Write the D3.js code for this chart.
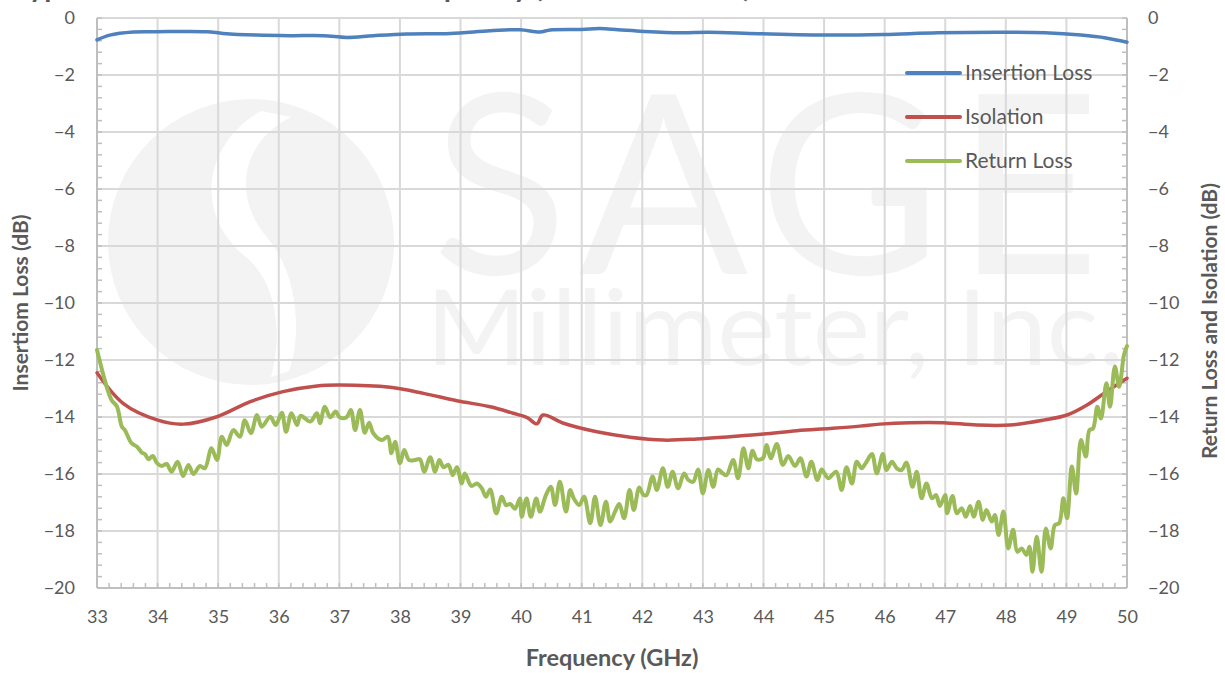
<!DOCTYPE html>
<html>
<head>
<meta charset="utf-8">
<script src="https://cdn.jsdelivr.net/npm/d3@7"></script>
<style>
  html, body { margin: 0; padding: 0; background: #fff; }
  svg { display: block; font-family: Lato, 'Open Sans', sans-serif; }
</style>
</head>
<body>
<div id="chart"></div>
<script>
// tick labels
const xTicks = [33, 34, 35, 36, 37, 38, 39, 40, 41, 42, 43, 44, 45, 46, 47, 48, 49, 50];
const yTicks = [0, -2, -4, -6, -8, -10, -12, -14, -16, -18, -20];

// [frequency GHz, dB]
const insertionLoss = [
  [33.00, -0.77], [33.21, -0.60], [33.60, -0.49], [33.99, -0.48], [34.81, -0.48], [35.08, -0.54],
  [35.64, -0.60], [36.19, -0.62], [36.74, -0.62], [37.12, -0.68], [37.56, -0.62], [38.11, -0.56],
  [38.83, -0.54], [39.49, -0.45], [39.98, -0.41], [40.31, -0.49], [40.48, -0.42], [41.00, -0.40],
  [41.30, -0.37], [41.60, -0.41], [42.03, -0.47], [42.63, -0.52], [43.10, -0.50], [43.92, -0.55],
  [45.10, -0.60], [45.99, -0.58], [46.88, -0.52], [48.06, -0.50], [48.65, -0.52], [49.24, -0.60],
  [49.65, -0.70], [50.00, -0.85]
];

const isolation = [
  [33.00, -12.45], [33.43, -13.52], [33.99, -14.10], [34.42, -14.25], [34.98, -13.99], [35.53, -13.46],
  [36.07, -13.11], [36.63, -12.91], [37.01, -12.88], [37.84, -12.96], [38.39, -13.17], [38.94, -13.43],
  [39.49, -13.64], [39.87, -13.87], [40.10, -14.02], [40.26, -14.24], [40.36, -13.93], [40.70, -14.22],
  [41.25, -14.52], [41.80, -14.71], [42.35, -14.81], [42.90, -14.77], [43.45, -14.69], [44.00, -14.60],
  [44.55, -14.48], [45.10, -14.40], [45.59, -14.32], [45.92, -14.25], [46.42, -14.20], [46.97, -14.20],
  [47.52, -14.28], [48.07, -14.28], [48.62, -14.11], [49.01, -13.93], [49.34, -13.58], [49.66, -13.11],
  [50.00, -12.64]
];

const returnLoss = [
  [33.00, -11.65], [33.16, -12.94], [33.24, -13.40], [33.33, -13.64], [33.41, -14.34], [33.46, -14.46],
  [33.57, -14.92], [33.66, -15.04], [33.74, -15.25], [33.79, -15.30], [33.85, -15.48], [33.92, -15.37],
  [33.99, -15.62], [34.07, -15.72], [34.15, -15.65], [34.23, -15.92], [34.33, -15.57], [34.42, -16.07],
  [34.51, -15.68], [34.59, -16.00], [34.70, -15.72], [34.78, -15.80], [34.89, -15.10], [34.98, -15.51],
  [35.06, -14.69], [35.14, -14.98], [35.25, -14.46], [35.36, -14.69], [35.44, -14.11], [35.54, -14.57],
  [35.64, -13.93], [35.72, -14.34], [35.86, -13.99], [35.95, -14.28], [36.05, -13.85], [36.12, -14.52],
  [36.21, -13.87], [36.30, -14.28], [36.36, -13.96], [36.52, -14.16], [36.63, -13.87], [36.68, -14.22],
  [36.76, -13.64], [36.85, -14.01], [36.94, -13.81], [37.01, -14.02], [37.12, -14.01], [37.19, -13.75],
  [37.26, -14.46], [37.34, -13.75], [37.42, -14.55], [37.49, -14.20], [37.56, -14.57], [37.70, -14.81],
  [37.80, -14.69], [37.86, -15.27], [37.92, -14.87], [38.00, -15.62], [38.07, -15.16], [38.15, -15.51],
  [38.25, -15.51], [38.33, -15.48], [38.40, -15.92], [38.50, -15.41], [38.58, -15.92], [38.65, -15.51],
  [38.72, -15.76], [38.80, -15.68], [38.87, -16.04], [38.94, -15.76], [39.02, -16.33], [39.07, -15.98],
  [39.18, -16.42], [39.27, -16.33], [39.35, -16.50], [39.42, -16.80], [39.49, -16.54], [39.59, -17.38],
  [39.68, -16.80], [39.75, -17.09], [39.82, -17.05], [39.90, -17.22], [39.98, -16.86], [40.01, -17.50],
  [40.09, -16.86], [40.16, -17.50], [40.25, -16.86], [40.31, -17.32], [40.41, -16.74], [40.49, -16.45],
  [40.56, -17.09], [40.64, -16.27], [40.74, -17.32], [40.81, -16.56], [40.87, -16.86], [40.96, -17.09],
  [41.04, -16.80], [41.14, -17.73], [41.22, -16.80], [41.31, -17.79], [41.40, -16.97], [41.47, -17.67],
  [41.55, -17.32], [41.62, -17.05], [41.70, -17.55], [41.79, -16.56], [41.86, -17.26], [41.95, -16.47],
  [42.02, -16.74], [42.07, -16.74], [42.17, -16.09], [42.24, -16.56], [42.34, -15.80], [42.42, -16.45],
  [42.50, -15.92], [42.59, -16.50], [42.69, -15.98], [42.76, -16.21], [42.84, -16.27], [42.92, -15.84],
  [43.00, -16.68], [43.09, -15.86], [43.17, -16.45], [43.25, -15.84], [43.33, -15.98], [43.39, -16.04],
  [43.50, -15.51], [43.58, -16.15], [43.67, -15.10], [43.75, -15.80], [43.82, -15.18], [43.89, -15.48],
  [43.99, -15.45], [44.05, -14.98], [44.12, -15.45], [44.22, -14.95], [44.32, -15.68], [44.41, -15.37],
  [44.52, -15.72], [44.61, -15.45], [44.71, -16.09], [44.79, -15.57], [44.89, -16.21], [44.96, -15.84],
  [45.07, -16.15], [45.20, -15.92], [45.29, -16.56], [45.37, -15.76], [45.46, -16.33], [45.54, -15.57],
  [45.62, -15.80], [45.69, -15.61], [45.79, -15.30], [45.87, -15.98], [45.97, -15.30], [46.03, -15.86],
  [46.12, -15.57], [46.20, -15.80], [46.28, -15.86], [46.36, -15.60], [46.46, -16.45], [46.53, -15.92],
  [46.61, -16.85], [46.69, -16.33], [46.78, -16.85], [46.85, -16.74], [46.91, -17.12], [47.00, -16.74],
  [47.03, -17.38], [47.12, -16.77], [47.19, -17.38], [47.27, -17.20], [47.34, -17.50], [47.41, -17.12],
  [47.47, -17.50], [47.55, -16.97], [47.62, -17.61], [47.68, -17.26], [47.77, -17.67], [47.82, -17.44],
  [47.88, -18.14], [47.96, -17.32], [48.04, -18.61], [48.12, -17.96], [48.19, -18.73], [48.26, -18.61],
  [48.34, -18.84], [48.39, -18.55], [48.44, -19.43], [48.51, -18.20], [48.59, -19.43], [48.66, -17.91],
  [48.74, -18.61], [48.81, -17.79], [48.88, -17.73], [48.95, -16.85], [49.01, -17.55], [49.09, -15.74],
  [49.16, -16.68], [49.24, -14.81], [49.32, -15.39], [49.38, -14.46], [49.44, -14.40], [49.51, -13.64],
  [49.57, -14.05], [49.66, -12.82], [49.72, -13.64], [49.80, -12.23], [49.87, -12.94], [49.95, -11.82],
  [50.00, -11.51]
];

const seriesNames = ['Insertion Loss', 'Isolation', 'Return Loss'];
const seriesColors = ['#4f81bd', '#c0504d', '#9bbb59'];

const width = 1225;
const height = 673;
const margin = { top: 18, right: 98, bottom: 85, left: 97 };
const innerWidth = width - margin.left - margin.right;
const innerHeight = height - margin.top - margin.bottom;

const textColor = '#595959';
const gridColor = '#d9d9d9';
const axisColor = '#bfbfbf';
const markColor = '#f3f3f3';

const x = d3.scaleLinear().domain([33, 50]).range([0, innerWidth]);
const y = d3.scaleLinear().domain([0, -20]).range([0, innerHeight]);

const svg = d3.select('#chart')
  .append('svg')
  .attr('width', width)
  .attr('height', height)
  .style('background', '#ffffff');

/* Title, mostly cut off at the top edge */
svg.append('text')
  .attr('x', 14)
  .attr('y', -3)
  .attr('fill', textColor)
  .attr('font-size', 29)
  .attr('font-weight', 700)
  .text('Typical Performance Data vs. Frequency (Port 1 to Port 2)');

const g = svg.append('g').attr('transform', `translate(${margin.left},${margin.top})`);

/* Watermark behind the grid */
const wm = g.append('g').attr('class', 'watermark');
const cx = 251 - margin.left, cy = 242 - margin.top, r = 143;
wm.append('circle').attr('cx', cx).attr('cy', cy).attr('r', r).attr('fill', markColor);
// white S-shaped band through the logo
wm.append('path')
  .attr('d', `M${cx + 10},${cy - r + 12}
    C${cx - 45},${cy - 100} ${cx - 60},${cy - 30} ${cx - 5},${cy + 15}
    C${cx + 30},${cy + 45} ${cx + 30},${cy + 100} ${cx + 20},${cy + r - 8}
    L${cx + 38},${cy + r - 14}
    C${cx + 52},${cy + 90} ${cx + 45},${cy + 30} ${cx + 18},${cy - 2}
    C${cx - 20},${cy - 45} ${cx - 10},${cy - 100} ${cx + 40},${cy - r + 18} Z`)
  .attr('fill', '#ffffff');
wm.append('text')
  .attr('x', 432 - margin.left)
  .attr('y', 274 - margin.top)
  .attr('font-size', 250)
  .attr('font-weight', 400)
  .attr('fill', markColor)
  .attr('textLength', 668)
  .attr('lengthAdjust', 'spacing')
  .text('SAGE');
wm.append('text')
  .attr('x', 426 - margin.left)
  .attr('y', 365 - margin.top)
  .attr('font-size', 104)
  .attr('font-weight', 400)
  .attr('fill', markColor)
  .attr('textLength', 698)
  .attr('lengthAdjust', 'spacingAndGlyphs')
  .text('Millimeter, Inc.');

/* Grid */
g.append('g')
  .selectAll('line')
  .data(xTicks.slice(1, -1))
  .join('line')
  .attr('x1', (d) => x(d)).attr('x2', (d) => x(d))
  .attr('y1', 0).attr('y2', innerHeight)
  .attr('stroke', gridColor).attr('stroke-width', 2);

g.append('g')
  .selectAll('line')
  .data(yTicks.slice(0, -1))
  .join('line')
  .attr('x1', 0).attr('x2', innerWidth)
  .attr('y1', (d) => y(d)).attr('y2', (d) => y(d))
  .attr('stroke', gridColor).attr('stroke-width', 2);

/* Minor ticks, pointing into the plot */
const xMinor = d3.range(0, 86).map((i) => 33 + i * 0.2);
const yMinor = d3.range(0, 51).map((i) => -i * 0.4);
const minor = g.append('g').attr('stroke', axisColor).attr('stroke-width', 1.5);
minor.selectAll('line.xm').data(xMinor).join('line').attr('class', 'xm')
  .attr('x1', (d) => x(d)).attr('x2', (d) => x(d))
  .attr('y1', innerHeight).attr('y2', innerHeight - 5);
minor.selectAll('line.yl').data(yMinor).join('line').attr('class', 'yl')
  .attr('x1', 0).attr('x2', 5)
  .attr('y1', (d) => y(d)).attr('y2', (d) => y(d));
minor.selectAll('line.yr').data(yMinor).join('line').attr('class', 'yr')
  .attr('x1', innerWidth).attr('x2', innerWidth - 5)
  .attr('y1', (d) => y(d)).attr('y2', (d) => y(d));

/* Axis lines */
const axisLines = g.append('g').attr('stroke', axisColor).attr('stroke-width', 2);
axisLines.append('line').attr('x1', 0).attr('x2', 0).attr('y1', 0).attr('y2', innerHeight);
axisLines.append('line').attr('x1', innerWidth).attr('x2', innerWidth).attr('y1', 0).attr('y2', innerHeight);
axisLines.append('line').attr('x1', 0).attr('x2', innerWidth).attr('y1', innerHeight).attr('y2', innerHeight);

/* Axes (labels only) */
function styleAxis(sel) {
  sel.select('.domain').remove();
  sel.selectAll('line').remove();
  sel.selectAll('text')
    .attr('fill', textColor)
    .attr('font-size', 18)
    .attr('font-family', "Lato, 'Open Sans', sans-serif");
}

g.append('g')
  .call(d3.axisLeft(y).tickValues(yTicks).tickSize(0).tickPadding(22).tickFormat(d3.format('d')))
  .call(styleAxis);

g.append('g')
  .attr('transform', `translate(${innerWidth},0)`)
  .call(d3.axisRight(y).tickValues(yTicks).tickSize(0).tickPadding(21).tickFormat(d3.format('d')))
  .call(styleAxis);

g.append('g')
  .attr('transform', `translate(0,${innerHeight})`)
  .call(d3.axisBottom(x).tickValues(xTicks).tickSize(0).tickPadding(22).tickFormat(d3.format('d')))
  .call(styleAxis);

/* Series lines */
const line = d3.line()
  .x((d) => x(d[0]))
  .y((d) => y(d[1]))
  .curve(d3.curveCatmullRom.alpha(0.5));

[insertionLoss, isolation, returnLoss].forEach((data, i) => {
  g.append('path')
    .datum(data)
    .attr('fill', 'none')
    .attr('stroke', seriesColors[i])
    .attr('stroke-width', i === 2 ? 4 : 3.5)
    .attr('stroke-linejoin', 'round')
    .attr('stroke-linecap', 'round')
    .attr('d', line);
});

/* Axis titles */
svg.append('text')
  .attr('transform', `translate(28,${margin.top + innerHeight / 2}) rotate(-90)`)
  .attr('text-anchor', 'middle')
  .attr('fill', textColor)
  .attr('font-size', 21)
  .attr('font-weight', 700)
  .text('Insertiom Loss (dB)');

svg.append('text')
  .attr('transform', `translate(1217,${margin.top + innerHeight / 2 + 18}) rotate(-90)`)
  .attr('text-anchor', 'middle')
  .attr('fill', textColor)
  .attr('font-size', 21)
  .attr('font-weight', 700)
  .text('Return Loss and Isolation (dB)');

svg.append('text')
  .attr('x', margin.left + innerWidth / 2)
  .attr('y', 666)
  .attr('text-anchor', 'middle')
  .attr('fill', textColor)
  .attr('font-size', 23.5)
  .attr('font-weight', 700)
  .text('Frequency (GHz)');

/* Legend */
const legend = svg.append('g').attr('transform', 'translate(907,73)');
seriesNames.forEach((name, i) => {
  const item = legend.append('g').attr('transform', `translate(0,${i * 44})`);
  item.append('line')
    .attr('x1', 0).attr('x2', 53)
    .attr('stroke', seriesColors[i])
    .attr('stroke-width', 4)
    .attr('stroke-linecap', 'round');
  item.append('text')
    .attr('x', 58)
    .attr('y', 7)
    .attr('fill', textColor)
    .attr('font-size', 21)
    .text(name);
});
</script>
</body>
</html>
